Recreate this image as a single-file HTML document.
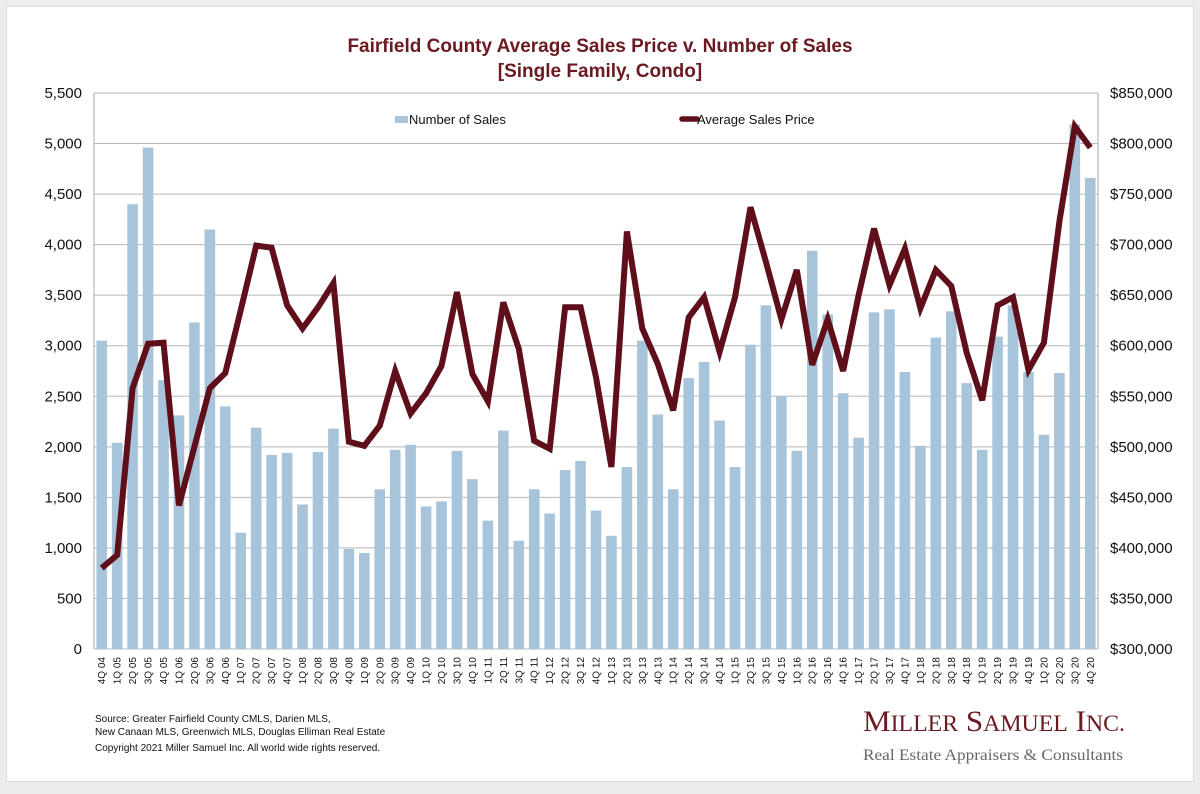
<!DOCTYPE html>
<html><head><meta charset="utf-8"><style>
body{margin:0;background:#ececec;width:1200px;height:794px;overflow:hidden;font-family:"Liberation Sans",sans-serif}
#card{position:absolute;left:6px;top:6px;width:1186px;height:774px;background:#fff;border:1px solid #ddd}
</style></head><body><div id="card"></div>
<svg id="s" width="1200" height="794" style="position:absolute;left:0;top:0" font-family="Liberation Sans, sans-serif"></svg>
<script>
const bars=[3050,2040,4400,4960,2660,2310,3230,4150,2400,1150,2190,1920,1940,1430,1950,2180,990,950,1580,1970,2020,1410,1460,1960,1680,1270,2160,1070,1580,1340,1770,1860,1370,1120,1800,3050,2320,1580,2680,2840,2260,1800,3010,3400,2500,1960,3940,3310,2530,2090,3330,3360,2740,2010,3080,3340,2630,1970,3090,3400,2740,2120,2730,5190,4660];
const line=[380,393,558,602,603,442,500,558,573,635,699,697,640,617,638,662,505,501,521,575,533,553,580,653,572,545,643,597,506,498,638,638,569,480,713,617,582,536,628,648,594,648,737,683,626,675,581,626,575,650,716,660,696,637,675,659,593,546,640,648,576,603,723,817,796];
const L=94,R=1098,T=93,B=649,n=65,w=(R-L)/n;
let h='';
h+=`<text x="600" y="52" text-anchor="middle" font-size="19" font-weight="bold" fill="#6b1a22">Fairfield County Average Sales Price v. Number of Sales</text>`;
h+=`<text x="600" y="77" text-anchor="middle" font-size="19" font-weight="bold" fill="#6b1a22">[Single Family, Condo]</text>`;
for(let i=0;i<=11;i++){const y=B-(B-T)*i/11;
h+=`<line x1="${L}" x2="${R}" y1="${y}" y2="${y}" stroke="#b8b8b8" stroke-width="1"/>`;
h+=`<text x="${L-12}" y="${y+5}" text-anchor="end" font-size="15" fill="#111">${(i*500).toLocaleString('en-US')}</text>`;
h+=`<text x="${R+12}" y="${y+5}" font-size="15" fill="#111">$${(300000+i*50000).toLocaleString('en-US')}</text>`;}
h+=`<line x1="${L}" x2="${L}" y1="${T}" y2="${B}" stroke="#aaa"/><line x1="${R}" x2="${R}" y1="${T}" y2="${B}" stroke="#aaa"/>`;
const q=['4Q','1Q','2Q','3Q'];
let pts=[];
for(let i=0;i<n;i++){const cx=L+w*(i+0.5),bh=bars[i]*(B-T)/5500;
h+=`<rect x="${cx-5.3}" y="${B-bh}" width="10.6" height="${bh}" fill="#a8c4da"/>`;
const yr=4+Math.floor(i/4)+(i%4?1:0);const lab=q[i%4]+' '+String(yr).padStart(2,'0');
h+=`<text transform="translate(${cx+3.5},${B+8}) rotate(-90)" text-anchor="end" font-size="10" fill="#111">${lab}</text>`;
pts.push(cx.toFixed(1)+','+(B-(line[i]-300)*(B-T)/550).toFixed(1));}
h+=`<polyline points="${pts.join(' ')}" fill="none" stroke="#5e0f1a" stroke-width="6" stroke-linejoin="miter"/>`;
h+=`<rect x="395" y="116" width="13" height="7" fill="#a8c4da"/><text x="409" y="124" font-size="13" fill="#111">Number of Sales</text>`;
h+=`<line x1="682" x2="697" y1="119" y2="119" stroke="#5e0f1a" stroke-width="5.5" stroke-linecap="round"/><text x="697" y="124" font-size="13" fill="#111">Average Sales Price</text>`;
h+=`<text x="95" y="722" font-size="10" fill="#111">Source:  Greater Fairfield County CMLS, Darien MLS,</text>`;
h+=`<text x="95" y="735" font-size="10" fill="#111">New Canaan MLS, Greenwich MLS, Douglas Elliman Real Estate</text>`;
h+=`<text x="95" y="751" font-size="10" fill="#111">Copyright 2021 Miller Samuel Inc.  All world wide rights reserved.</text>`;
h+=`<text x="863" y="731" font-family="Liberation Serif, serif" font-size="30" fill="#6b1a22" textLength="262" lengthAdjust="spacingAndGlyphs">M<tspan font-size="23">ILLER</tspan> S<tspan font-size="23">AMUEL</tspan> I<tspan font-size="23">NC.</tspan></text>`;
h+=`<text x="863" y="760" font-family="Liberation Serif, serif" font-size="16" fill="#666" textLength="260" lengthAdjust="spacingAndGlyphs">Real Estate Appraisers &amp; Consultants</text>`;
document.getElementById('s').innerHTML=h;
</script></body></html>
